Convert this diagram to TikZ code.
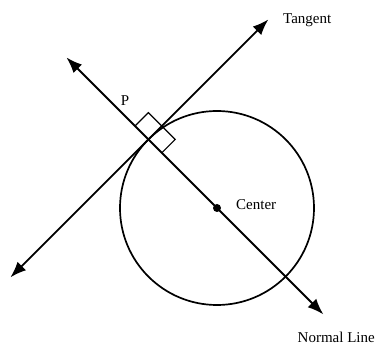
\documentclass[tikz,border=0pt]{standalone}
\usepackage{fontspec}
\setmainfont{Liberation Serif}
\usetikzlibrary{arrows.meta,calc}

\begin{document}
\begin{tikzpicture}[
    x=1pt, y=-1pt,
    font=\fontsize{15}{18}\selectfont,
    ln/.style={line width=1.7pt},
    arr/.style={{Latex[length=16pt,width=12pt]}-{Latex[length=16pt,width=12pt]}, line width=1.8pt},
    lbl/.style={anchor=west, inner sep=0pt}
  ]
    \useasboundingbox (0,0) rectangle (376,345);
    \coordinate (ctr) at (217,208);
    \coordinate (p) at ($(ctr)+(-68.6,-68.6)$);
    % line ends
    \coordinate (tanA) at ($(p)+(-138,138)$);
    \coordinate (tanB) at ($(p)+(120,-120)$);
    \coordinate (nrmA) at ($(p)+(-82,-82)$);
    \coordinate (nrmB) at ($(p)+(175,175)$);
    \draw[ln] (ctr) circle[radius=97];
    \draw[arr] (tanA) -- (tanB);
    \draw[arr] (nrmA) -- (nrmB);
    % right angle mark
    \draw[line width=1.2pt] ($(p)+(-13.4,-13.4)$) -- ($(p)+(0,-26.8)$)
      -- ($(p)+(26.8,0)$) -- ($(p)+(13.4,13.4)$);
    \node[circle, fill, inner sep=0pt, minimum size=8pt] (dot) at (ctr) {};
    \node[lbl] (ctrlbl) at (236,205) {Center};
    \node (plbl) at (125,101) {P};
    \node[lbl] (tanlbl) at (283,20) {Tangent};
    \node[anchor=east, inner sep=0pt] (nrmlbl) at (375,337) {Normal Line};
\end{tikzpicture}
\end{document}
